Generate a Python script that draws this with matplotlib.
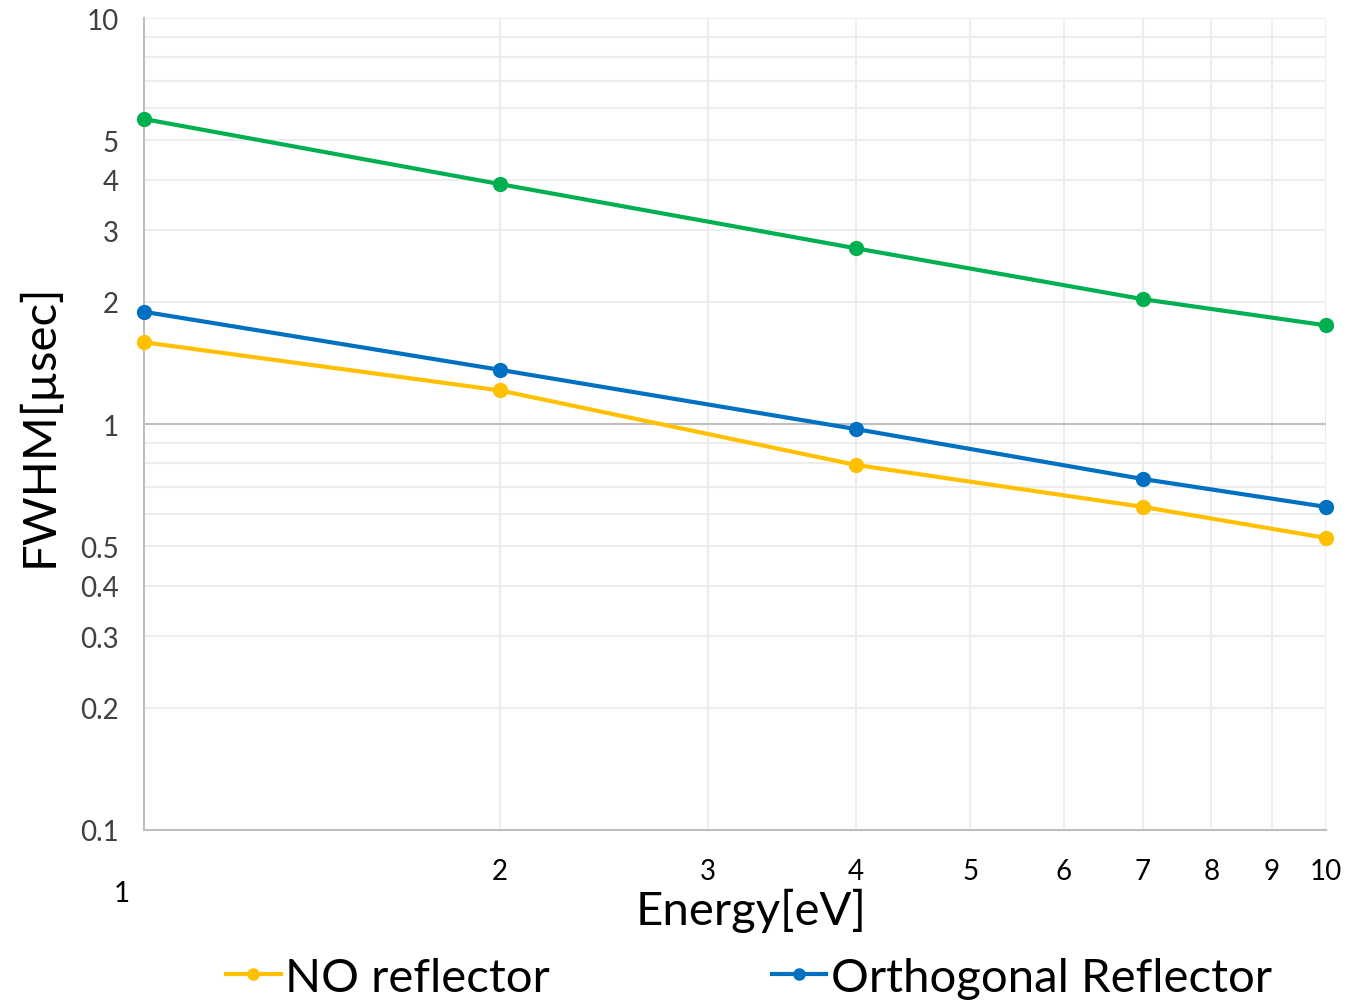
import matplotlib.pyplot as plt
from matplotlib.ticker import FixedLocator, NullFormatter

plt.rcParams['font.family'] = ['Lato', 'DejaVu Sans']

# Data
energy = [1, 2, 4, 7, 10]
fwhm_green = [5.64, 3.90, 2.71, 2.03, 1.75]
fwhm_orthogonal = [1.89, 1.36, 0.972, 0.732, 0.625]
fwhm_no_reflector = [1.59, 1.21, 0.793, 0.625, 0.524]

x_ticks = [2, 3, 4, 5, 6, 7, 8, 9, 10]
x_tick_labels = ['2', '3', '4', '5', '6', '7', '8', '9', '10']
y_ticks = [0.1, 0.2, 0.3, 0.4, 0.5, 1, 2, 3, 4, 5, 10]
y_tick_labels = ['0.1', '0.2', '0.3', '0.4', '0.5', '1', '2', '3', '4', '5', '10']
y_minor = [0.2, 0.3, 0.4, 0.5, 0.6, 0.7, 0.8, 0.9, 2, 3, 4, 5, 6, 7, 8, 9]

YELLOW = '#FFC000'
BLUE = '#0070C0'
GREEN = '#00B050'

fig = plt.figure(figsize=(13.48, 10.03), dpi=100)
ax = fig.add_axes([0.1068, 0.1715, 0.9837 - 0.1068, 0.981 - 0.1715])
ax.set_xscale('log')
ax.set_yscale('log')
ax.set_xlim(1, 10)
ax.set_ylim(0.1, 10)

# grid lines
for v in x_ticks:
    ax.axvline(v, color='#EDEDED', lw=1.5, zorder=0)
for v in y_minor:
    ax.axhline(v, color='#EDEDED', lw=1.5, zorder=0)
ax.axhline(10, color='#EDEDED', lw=1.5, zorder=0)
ax.axhline(1, color='#BFBFBF', lw=1.5, zorder=1)

line_kw = dict(lw=3, marker='o', markersize=10, clip_on=False, zorder=3)
ax.plot(energy, fwhm_green, color=GREEN, **line_kw)
ax.plot(energy, fwhm_no_reflector, color=YELLOW, label='NO reflector', **line_kw)
ax.plot(energy, fwhm_orthogonal, color=BLUE, label='Orthogonal Reflector', **line_kw)

for side in ['top', 'right']:
    ax.spines[side].set_visible(False)
for side in ['left', 'bottom']:
    ax.spines[side].set_color('#BFBFBF')
    ax.spines[side].set_linewidth(1.5)

ax.xaxis.set_major_locator(FixedLocator(x_ticks))
ax.set_xticklabels(x_tick_labels)
ax.xaxis.set_minor_formatter(NullFormatter())
ax.yaxis.set_major_locator(FixedLocator(y_ticks))
ax.set_yticklabels(y_tick_labels)
ax.yaxis.set_minor_formatter(NullFormatter())
ax.tick_params(which='both', length=0)
ax.tick_params(axis='x', labelsize=20, pad=20, labelcolor='#000000')
ax.tick_params(axis='y', labelsize=20, pad=18, labelcolor='#404040')

# the "1" label sits lower and further left in the reference
ax.text(-0.019, -0.077, '1', transform=ax.transAxes, fontsize=20,
        ha='center', va='center')

ax.set_xlabel('Energy[eV]', fontsize=34)
ax.xaxis.set_label_coords(0.5135, -0.071)
ax.set_ylabel('FWHM[\u00b5sec]', fontsize=34, labelpad=14)

ax.legend(loc='center', bbox_to_anchor=(0.512, -0.182), ncol=2, frameon=False,
          fontsize=34, handlelength=1.15, handletextpad=0.1, columnspacing=4.7,
          markerscale=0.8)

fig.savefig('out.png', dpi=100)
